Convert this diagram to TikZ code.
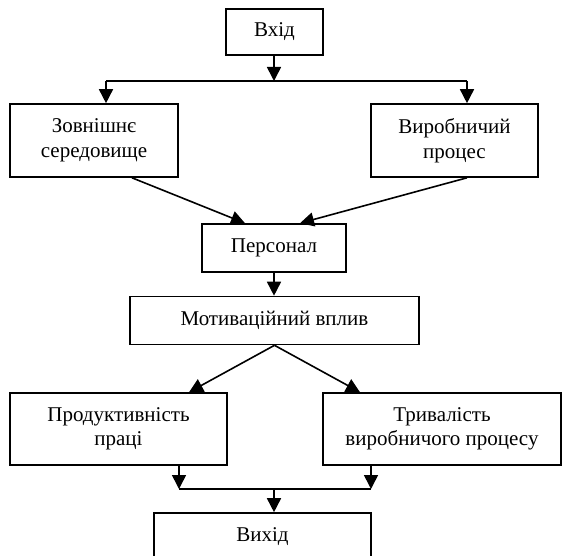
\documentclass[tikz,border=0pt]{standalone}
\usepackage{fontspec}
\setmainfont{Liberation Serif}
\usetikzlibrary{arrows.meta}
\tikzset{
  blok/.style={draw,line width=1.6pt,align=center,inner sep=0pt,
    font=\fontsize{21}{24.5}\selectfont},
  arr/.style={line width=1.6pt,-{Triangle[length=14pt,width=14pt]}},
  lin/.style={line width=1.6pt}
}
\begin{document}
\begin{tikzpicture}[x=1pt,y=-1pt]
  \useasboundingbox (0,0) rectangle (562,556);
  % the boxes
  \node[blok,minimum width=97pt,minimum height=46pt] (vkhid) at (274.5,32) {Вхід};
  \node[blok,minimum width=168pt,minimum height=73pt] (zovn) at (94,140.5) {Зовнішнє\\середовище};
  \node[blok,minimum width=167pt,minimum height=73pt] (vyrob) at (454.5,140.5) {Виробничий\\процес};
  \node[blok,minimum width=144pt,minimum height=48pt] (pers) at (274,248) {Персонал};
  \node[blok,minimum width=289pt,minimum height=48pt] (motyv) at (274.5,320.5) {Мотиваційний вплив};
  \node[blok,minimum width=217pt,minimum height=72pt] (prod) at (118.5,429) {Продуктивність\\праці};
  \node[blok,minimum width=238pt,minimum height=72pt] (tryv) at (442,429) {Тривалість\\виробничого процесу};
  \node[blok,minimum width=217pt,minimum height=48pt] (vykhid) at (262.5,537) {Вихід};
  %% the upper fork
  \coordinate (jtop) at (274,81);
  \coordinate (jl) at (106,81);
  \coordinate (jr) at (467,81);
  \draw[arr] (vkhid.south -| jtop) -- (jtop);
  \draw[lin] (jl) -- (jr);
  \foreach \j/\b in {jl/zovn,jr/vyrob}
    \draw[arr] (\j) -- (\j |- \b.north);
  % into the staff box
  \draw[arr] ([xshift=38pt]zovn.south) -- ([xshift=-29pt]pers.north);
  \draw[arr] ([xshift=12.5pt]vyrob.south) -- ([xshift=26pt]pers.north);
  \draw[arr] (pers.south) -- (pers.south |- motyv.north);
  % the lower fork
  \draw[arr] (motyv.south) -- ([xshift=70.5pt]prod.north);
  \draw[arr] (motyv.south) -- ([xshift=-82pt]tryv.north);
  \coordinate (jbl) at (179,489);
  \coordinate (jbr) at (371,489);
  \coordinate (jbot) at (274,489);
  \draw[arr] (prod.south -| jbl) -- (jbl);
  \draw[arr] (tryv.south -| jbr) -- (jbr);
  \draw[lin] (jbl) -- (jbr);
  \draw[arr] (jbot) -- (jbot |- vykhid.north);
\end{tikzpicture}
\end{document}
